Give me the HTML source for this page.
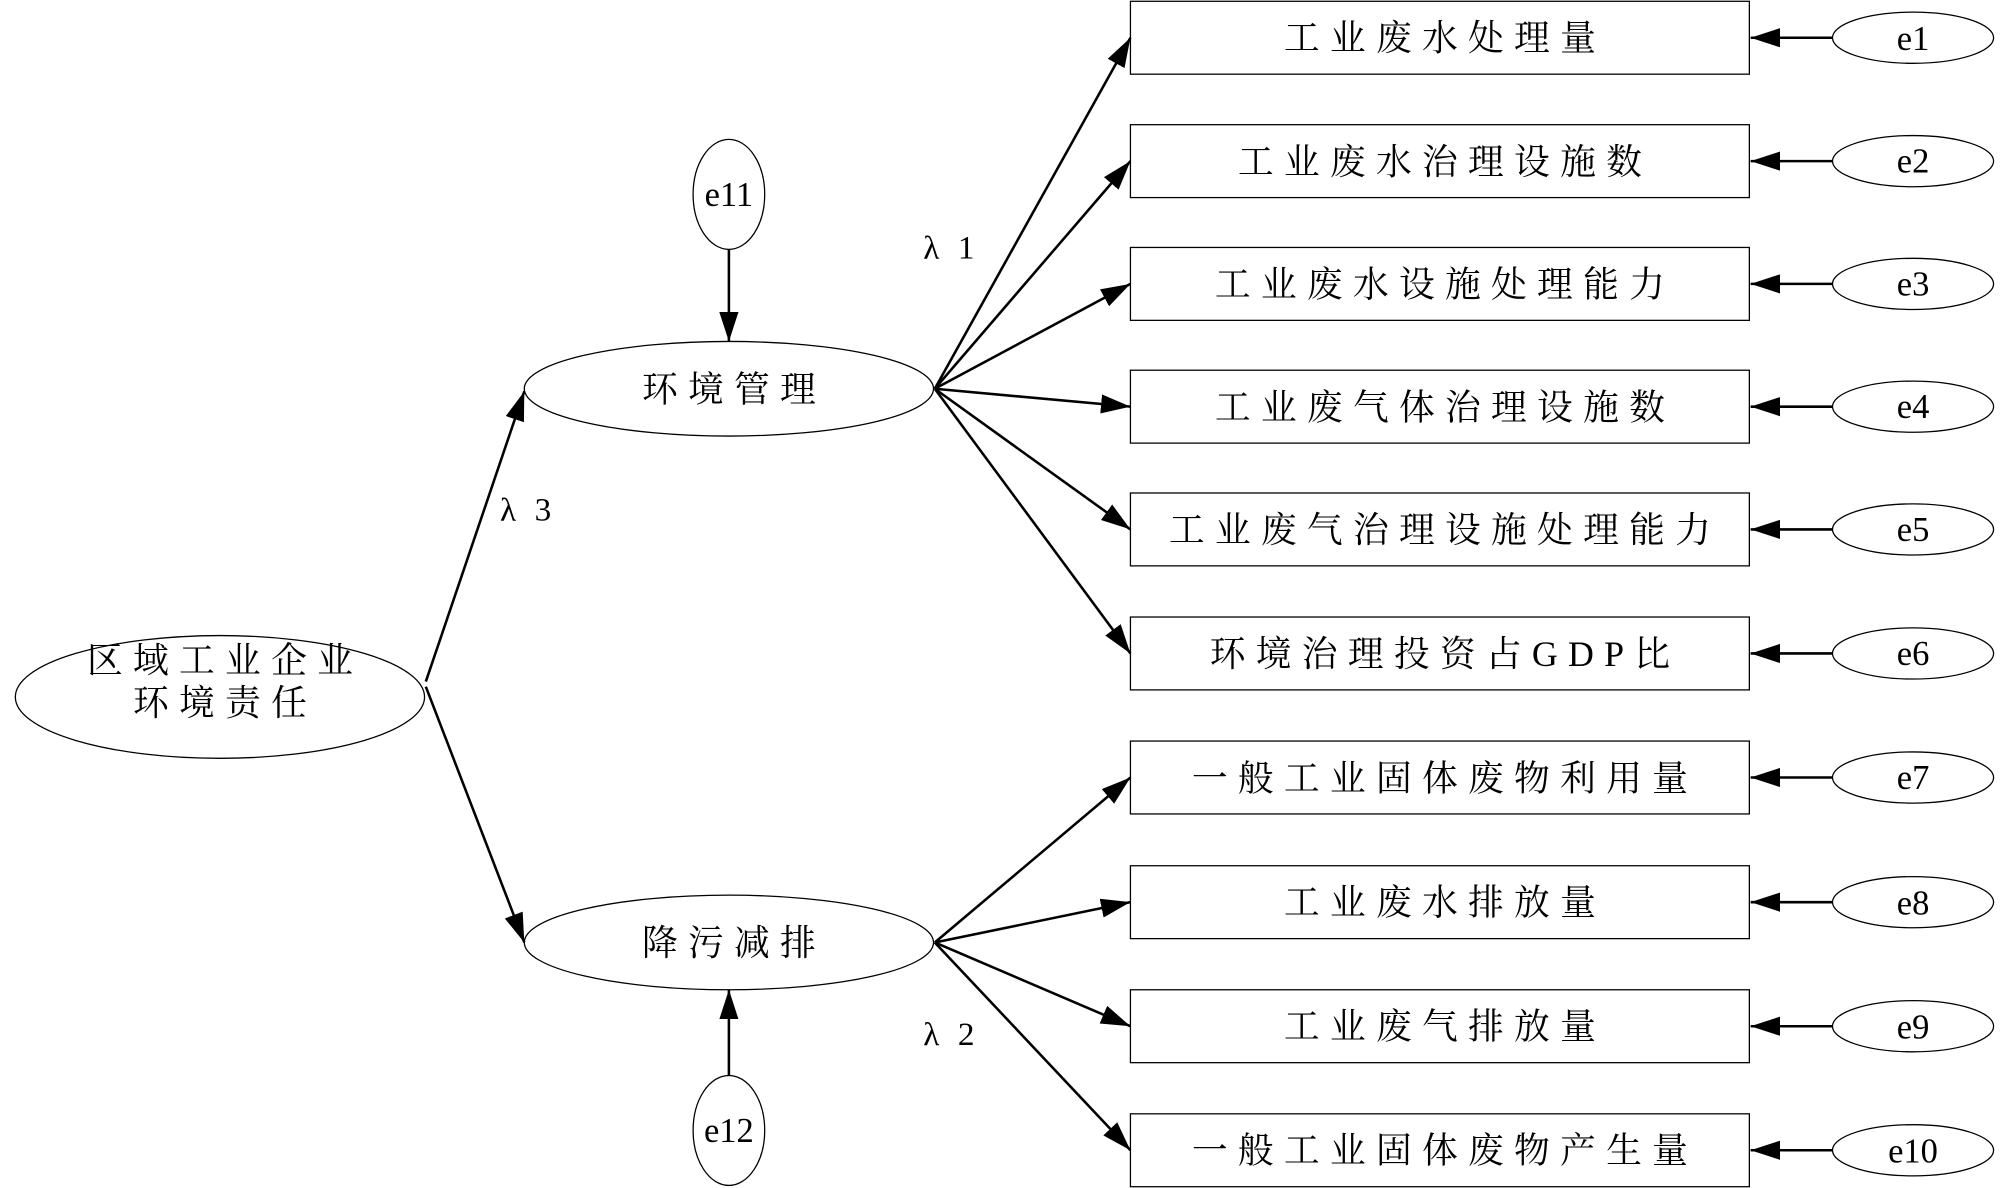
<!DOCTYPE html>
<html><head><meta charset="utf-8"><style>
html,body{margin:0;padding:0;background:#fff;}
svg{display:block;}
text{font-family:"Liberation Serif","Noto Serif CJK SC",serif;fill:#000;}
.b{font-size:28px;letter-spacing:8px;}
.e{font-size:27px;}
.l{font-size:26px;letter-spacing:4px;}
</style></head><body>
<svg width="2000" height="1188" viewBox="0 0 1564 929" xmlns="http://www.w3.org/2000/svg">
<defs>
<marker id="a" markerUnits="userSpaceOnUse" markerWidth="24" markerHeight="16" refX="23" refY="7.5" orient="auto">
<path d="M0,0 L23,7.5 L0,15 z" fill="#000"/>
</marker>
</defs>
<g fill="none" stroke="#000" stroke-width="1">
<rect x="884" y="1" width="484" height="57"/>
<rect x="884" y="97.5" width="484" height="57"/>
<rect x="884" y="193.5" width="484" height="57"/>
<rect x="884" y="289.5" width="484" height="57"/>
<rect x="884" y="385.5" width="484" height="57"/>
<rect x="884" y="482.5" width="484" height="57"/>
<rect x="884" y="579.5" width="484" height="57"/>
<rect x="884" y="677" width="484" height="57"/>
<rect x="884" y="774" width="484" height="57"/>
<rect x="884" y="871" width="484" height="57"/>
<ellipse cx="1496" cy="29.5" rx="63" ry="20"/>
<ellipse cx="1496" cy="126" rx="63" ry="20"/>
<ellipse cx="1496" cy="222" rx="63" ry="20"/>
<ellipse cx="1496" cy="318" rx="63" ry="20"/>
<ellipse cx="1496" cy="414" rx="63" ry="20"/>
<ellipse cx="1496" cy="511" rx="63" ry="20"/>
<ellipse cx="1496" cy="608" rx="63" ry="20"/>
<ellipse cx="1496" cy="705.5" rx="63" ry="20"/>
<ellipse cx="1496" cy="802.5" rx="63" ry="20"/>
<ellipse cx="1496" cy="899.5" rx="63" ry="20"/>
<ellipse cx="570" cy="152" rx="28" ry="43"/>
<ellipse cx="570" cy="884" rx="28" ry="43"/>
<ellipse cx="570" cy="304" rx="160" ry="37"/>
<ellipse cx="570" cy="737" rx="160" ry="37"/>
<ellipse cx="172" cy="545" rx="160" ry="48"/>
</g>
<g stroke="#000" stroke-width="2" marker-end="url(#a)">
<line x1="1433" y1="29.5" x2="1369" y2="29.5"/>
<line x1="1433" y1="126" x2="1369" y2="126"/>
<line x1="1433" y1="222" x2="1369" y2="222"/>
<line x1="1433" y1="318" x2="1369" y2="318"/>
<line x1="1433" y1="414" x2="1369" y2="414"/>
<line x1="1433" y1="511" x2="1369" y2="511"/>
<line x1="1433" y1="608" x2="1369" y2="608"/>
<line x1="1433" y1="705.5" x2="1369" y2="705.5"/>
<line x1="1433" y1="802.5" x2="1369" y2="802.5"/>
<line x1="1433" y1="899.5" x2="1369" y2="899.5"/>
<line x1="570" y1="195" x2="570" y2="267"/>
<line x1="570" y1="841" x2="570" y2="774"/>
<line x1="333" y1="533" x2="410" y2="306"/>
<line x1="333" y1="537" x2="410" y2="737"/>
<line x1="731" y1="304" x2="884" y2="29.5"/>
<line x1="731" y1="304" x2="884" y2="126"/>
<line x1="731" y1="304" x2="884" y2="222"/>
<line x1="731" y1="304" x2="884" y2="318"/>
<line x1="731" y1="304" x2="884" y2="414"/>
<line x1="731" y1="304" x2="884" y2="511"/>
<line x1="731" y1="737" x2="884" y2="608"/>
<line x1="731" y1="737" x2="884" y2="705.5"/>
<line x1="731" y1="737" x2="884" y2="802.5"/>
<line x1="731" y1="737" x2="884" y2="899.5"/>
</g>
<g class="b" text-anchor="middle">
<text x="1130" y="39">工业废水处理量</text>
<text x="1130" y="136">工业废水治理设施数</text>
<text x="1130" y="232">工业废水设施处理能力</text>
<text x="1130" y="328">工业废气体治理设施数</text>
<text x="1130" y="424">工业废气治理设施处理能力</text>
<text x="1130" y="521">环境治理投资占GDP比</text>
<text x="1130" y="618">一般工业固体废物利用量</text>
<text x="1130" y="715">工业废水排放量</text>
<text x="1130" y="812">工业废气排放量</text>
<text x="1130" y="909">一般工业固体废物产生量</text>
<text x="574" y="314">环境管理</text>
<text x="574" y="747">降污减排</text>
<text x="176" y="526">区域工业企业</text>
<text x="176" y="559">环境责任</text>
</g>
<g class="e" text-anchor="middle">
<text x="1496" y="39">e1</text>
<text x="1496" y="135">e2</text>
<text x="1496" y="231">e3</text>
<text x="1496" y="327">e4</text>
<text x="1496" y="423">e5</text>
<text x="1496" y="520">e6</text>
<text x="1496" y="617">e7</text>
<text x="1496" y="715">e8</text>
<text x="1496" y="812">e9</text>
<text x="1496" y="909">e10</text>
<text x="570" y="161">e11</text>
<text x="570" y="893">e12</text>
</g>
<g class="l">
<text x="722" y="202">λ 1</text>
<text x="391" y="407">λ 3</text>
<text x="722" y="817">λ 2</text>
</g>
</svg>
</body></html>
